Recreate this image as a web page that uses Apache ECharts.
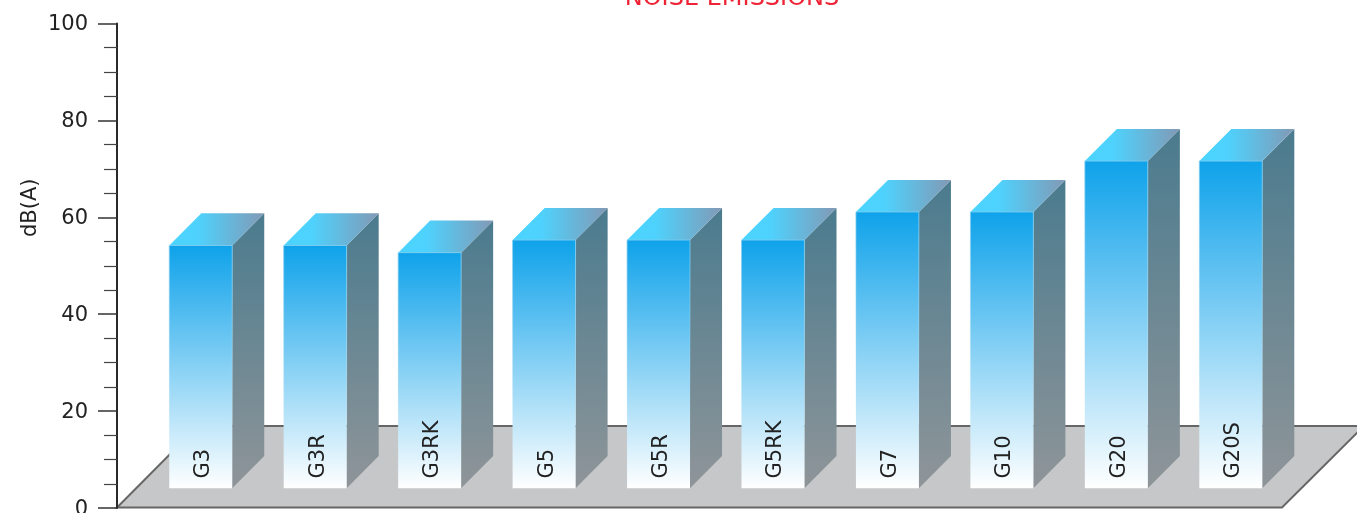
<!DOCTYPE html>
<html><head><meta charset="utf-8">
<style>html,body{margin:0;padding:0;background:#fff;overflow:hidden}#c{width:1357px;height:513px}</style>
<script src="https://cdn.jsdelivr.net/npm/echarts@6/dist/echarts.min.js"></script>
</head><body><div id="c"></div>
<script>
const categories = ['G3','G3R','G3RK','G5','G5R','G5RK','G7','G10','G20','G20S'];
const noise = [54.2, 54.2, 52.7, 55.3, 55.3, 55.3, 61.1, 61.1, 71.6, 71.6];
const yTicks = {min:0, max:100, interval:20};
const baseValue = 4.1;

const chart = echarts.init(document.getElementById('c'), null, {renderer:'canvas'});
const font = 'DejaVu Sans';
function lg(x2,y2,stops){return new echarts.graphic.LinearGradient(0,0,x2,y2,stops.map((c,i)=>({offset:c[0],color:c[1]})));}

chart.setOption({
  animation:false,
  backgroundColor:'#fff',
  title:{text:'NOISE EMISSIONS',left:727,textAlign:'center',top:-18,
    textStyle:{color:'#ee2436',fontFamily:font,fontWeight:'normal',fontSize:24}},
  grid:{left:143.5,width:1144.5,top:23.5,height:484.5,containLabel:false,outerBoundsMode:'none'},
  graphic:[
    {type:'polygon',z:0,shape:{points:[[117,507.5],[1282,507.5],[1364,426],[198,426]]},
     style:{fill:'#c6c7c8',stroke:'#666',lineWidth:2}}
  ],
  xAxis:{type:'category',data:categories,z:10,
    axisLine:{show:false},axisTick:{show:false},
    axisLabel:{inside:true,rotate:90,margin:29.5,color:'#222',fontFamily:font,fontSize:21,interval:0,
      align:'left',verticalAlign:'middle',
      formatter:v=>'{a|'+v+'}',
      rich:{a:{color:'#222',fontFamily:font,fontSize:21,padding:[6,0,0,0]}}}},
  yAxis:{type:'value',min:yTicks.min,max:yTicks.max,interval:yTicks.interval,offset:26.5,z:5,
    name:'dB(A)',nameLocation:'middle',nameGap:76,nameRotate:90,nameMoveOverlap:false,
    nameTextStyle:{color:'#222',fontFamily:font,fontSize:21,padding:[0,0,0,116]},
    axisLine:{show:true,lineStyle:{color:'#2a2a2a',width:2}},
    axisTick:{show:true,length:19,lineStyle:{color:'#333',width:1.5}},
    minorTick:{show:true,splitNumber:4,length:13,lineStyle:{color:'#444',width:1.2}},
    splitLine:{show:false},
    axisLabel:{color:'#222',fontFamily:font,fontSize:21,margin:29,showMinLabel:true,showMaxLabel:true,
      verticalAlignMinLabel:'middle',verticalAlignMaxLabel:'middle',
      formatter:v=>'{a|'+v+'}',
      rich:{a:{color:'#222',fontFamily:font,fontSize:21,padding:[3,0,0,0]}}}},
  series:[{
    type:'custom',z:3,clip:false,
    data:noise.map((v,i)=>[i,v]),
    encode:{x:0,y:1},
    renderItem(params,api){
      const top=api.coord([api.value(0),api.value(1)]);
      const base=api.coord([api.value(0),baseValue]);
      const band=api.size([1,0])[0];
      const w=band*0.55, d=band*0.28;
      const l=top[0]-w/2, r=top[0]+w/2, t=top[1], b=base[1];
      return {type:'group',children:[
        {type:'polygon',shape:{points:[[r,t],[r+d,t-d],[r+d,b-d],[r,b]]},
         style:{fill:lg(0,1,[[0,'#4a7b8e'],[1,'#8f9599']])}},
        {type:'polygon',shape:{points:[[l,t],[l+d,t-d],[r+d,t-d],[r,t]]},
         style:{fill:lg(1,0,[[0,'#4ad4ff'],[0.3,'#4ed2fd'],[1,'#8299b5']])}},
        {type:'rect',shape:{x:l,y:t,width:w,height:b-t},
         style:{fill:lg(0,1,[[0,'#0ea2ea'],[1,'#ffffff']]),
           stroke:lg(0,1,[[0,'rgba(130,205,240,0.8)'],[0.6,'rgba(170,220,240,0.2)'],[1,'rgba(255,255,255,0)']]),lineWidth:1}}
      ]};
    }
  }]
});
</script></body></html>
